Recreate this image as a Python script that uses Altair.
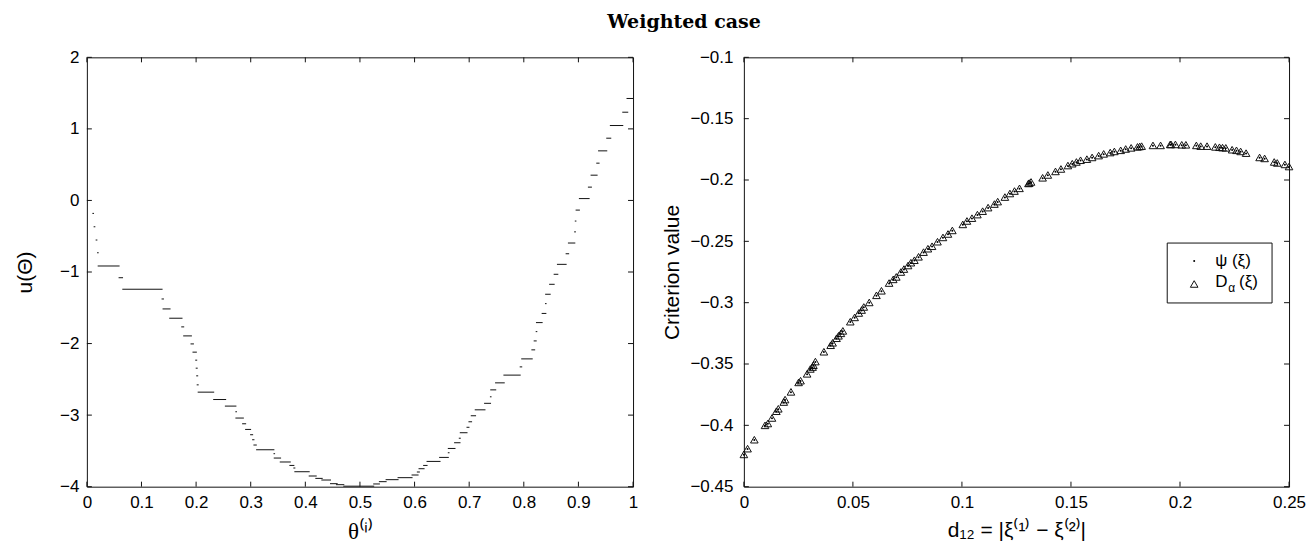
import altair as alt
import pandas as pd

# ---------------- Left panel: staircase u(theta) ----------------
seg_theta0 = [0.0110, 0.0133, 0.0170, 0.0196, 0.0207, 0.0590, 0.0658, 0.1377, 0.1395, 0.1517,
              0.1737, 0.1773, 0.1907, 0.1943, 0.1993, 0.2002, 0.2011, 0.2020, 0.2038, 0.2322,
              0.2536, 0.2728, 0.2729, 0.2852, 0.2907, 0.2998, 0.3035, 0.3059, 0.3108, 0.3426,
              0.3431, 0.3541, 0.3717, 0.3790, 0.3808, 0.4071, 0.4192, 0.4302, 0.4461, 0.4570,
              0.4704, 0.5252, 0.5356, 0.5479, 0.5698, 0.5954, 0.6051, 0.6082, 0.6166, 0.6229,
              0.6459, 0.6618, 0.6618, 0.6733, 0.6819, 0.6837, 0.6960, 0.6996, 0.7038, 0.7111,
              0.7282, 0.7389, 0.7395, 0.7483, 0.7636, 0.7934, 0.7962, 0.8148, 0.8190, 0.8227,
              0.8232, 0.8336, 0.8397, 0.8400, 0.8473, 0.8556, 0.8616, 0.8775, 0.8817, 0.8931,
              0.8943, 0.8958, 0.9018, 0.9183, 0.9232, 0.9336, 0.9369, 0.9519, 0.9585, 0.9812,
              0.9890]
seg_theta1 = [0.0122, 0.0146, 0.0183, 0.0207, 0.0590, 0.0653, 0.1377, 0.1402, 0.1523, 0.1742,
              0.1773, 0.1914, 0.1951, 0.2005, 0.2011, 0.2020, 0.2029, 0.2038, 0.2322, 0.2541,
              0.2729, 0.2739, 0.2865, 0.2907, 0.2998, 0.3035, 0.3059, 0.3102, 0.3424, 0.3437,
              0.3547, 0.3724, 0.3790, 0.3808, 0.4071, 0.4199, 0.4309, 0.4461, 0.4583, 0.4704,
              0.5252, 0.5356, 0.5479, 0.5698, 0.5954, 0.6064, 0.6088, 0.6174, 0.6229, 0.6466,
              0.6618, 0.6631, 0.6740, 0.6832, 0.6837, 0.6960, 0.6996, 0.7044, 0.7117, 0.7289,
              0.7391, 0.7400, 0.7486, 0.7642, 0.7934, 0.7962, 0.8154, 0.8199, 0.8227, 0.8238,
              0.8336, 0.8404, 0.8408, 0.8483, 0.8556, 0.8623, 0.8775, 0.8821, 0.8934, 0.8945,
              0.8954, 0.9018, 0.9196, 0.9238, 0.9342, 0.9378, 0.9519, 0.9592, 0.9812, 0.9903,
              0.9994]
seg_u = [-0.181, -0.368, -0.553, -0.731, -0.916, -1.080, -1.241, -1.377, -1.516, -1.646,
         -1.767, -1.893, -2.005, -2.120, -2.232, -2.344, -2.451, -2.577, -2.679, -2.782,
         -2.874, -2.953, -3.041, -3.121, -3.200, -3.274, -3.344, -3.418, -3.484, -3.539,
         -3.600, -3.655, -3.703, -3.739, -3.791, -3.851, -3.884, -3.907, -3.958, -3.972,
         -3.993, -3.962, -3.930, -3.902, -3.874, -3.837, -3.795, -3.749, -3.703, -3.647,
         -3.591, -3.526, -3.466, -3.386, -3.323, -3.246, -3.170, -3.093, -3.009, -2.926,
         -2.835, -2.744, -2.647, -2.549, -2.441, -2.326, -2.214, -2.088, -1.963, -1.833,
         -1.707, -1.579, -1.442, -1.311, -1.172, -1.032, -0.893, -0.745, -0.595, -0.439,
         -0.288, -0.135, 0.026, 0.186, 0.353, 0.521, 0.693, 0.870, 1.047, 1.233,
         1.425]

left_xticks = [0, 0.1, 0.2, 0.3, 0.4, 0.5, 0.6, 0.7, 0.8, 0.9, 1]
left_yticks = [-4, -3, -2, -1, 0, 1, 2]
left_xdomain = [0, 1]
left_ydomain = [-4, 2]

# ---------------- Right panel: criterion values ----------------
crit_d = [0, 0.0017, 0.0048, 0.0097, 0.011, 0.0129, 0.0149, 0.0158, 0.0183, 0.0189,
          0.0216, 0.0251, 0.026, 0.029, 0.0305, 0.0315, 0.0319, 0.0328, 0.0367, 0.0398,
          0.0407, 0.0425, 0.0434, 0.0445, 0.0454, 0.0488, 0.0508, 0.0527, 0.054, 0.055,
          0.0575, 0.0608, 0.0631, 0.0666, 0.0685, 0.0699, 0.072, 0.0734, 0.0753, 0.0766,
          0.0782, 0.0801, 0.0824, 0.0844, 0.0863, 0.0888, 0.0913, 0.0936, 0.0956, 0.1004,
          0.1023, 0.1046, 0.1071, 0.1095, 0.112, 0.1149, 0.1164, 0.1197, 0.122, 0.1241,
          0.1264, 0.1305, 0.1309, 0.1317, 0.137, 0.1394, 0.1429, 0.1454, 0.1486, 0.1506,
          0.1525, 0.1544, 0.1573, 0.1597, 0.1627, 0.165, 0.168, 0.1699, 0.1728, 0.1751,
          0.1776, 0.1805, 0.1815, 0.1824, 0.1876, 0.1911, 0.1955, 0.1959, 0.1979, 0.2008,
          0.2027, 0.2075, 0.2095, 0.2124, 0.2162, 0.2181, 0.2195, 0.221, 0.2239, 0.2259,
          0.2278, 0.2303, 0.2365, 0.2388, 0.2432, 0.2446, 0.2481, 0.25]
crit_dalpha = [-0.4237, -0.419, -0.4117, -0.400, -0.3985, -0.394, -0.3885, -0.3865, -0.381, -0.379,
               -0.3727, -0.365, -0.3636, -0.358, -0.354, -0.3525, -0.351, -0.348, -0.340, -0.3347,
               -0.3327, -0.329, -0.327, -0.325, -0.323, -0.3155, -0.312, -0.3084, -0.306, -0.3035,
               -0.2998, -0.294, -0.2903, -0.284, -0.281, -0.279, -0.275, -0.2726, -0.2697, -0.2674,
               -0.2654, -0.2626, -0.2588, -0.256, -0.254, -0.2503, -0.2468, -0.244, -0.2411, -0.2362,
               -0.2334, -0.2311, -0.2282, -0.2254, -0.2225, -0.2196, -0.2176, -0.2139, -0.211, -0.209,
               -0.2068, -0.2028, -0.2025, -0.2016, -0.1982, -0.1959, -0.193, -0.191, -0.1882, -0.1867,
               -0.1853, -0.1839, -0.183, -0.1816, -0.1801, -0.1787, -0.1776, -0.1767, -0.1758, -0.1747,
               -0.1738, -0.173, -0.1727, -0.1724, -0.1718, -0.1718, -0.171, -0.171, -0.171, -0.1713,
               -0.1713, -0.1718, -0.1724, -0.1724, -0.173, -0.1733, -0.1736, -0.1738, -0.1753, -0.1758,
               -0.1767, -0.1781, -0.1816, -0.1824, -0.1853, -0.1861, -0.1873, -0.189]
crit_psi = [-0.4240, -0.4193, -0.4120, -0.4003, -0.3988, -0.3943, -0.3888, -0.3868, -0.3813, -0.3793,
            -0.3730, -0.3653, -0.3639, -0.3583, -0.3543, -0.3528, -0.3513, -0.3483, -0.3403, -0.3350,
            -0.3330, -0.3293, -0.3273, -0.3253, -0.3233, -0.3158, -0.3123, -0.3087, -0.3063, -0.3038,
            -0.3001, -0.2943, -0.2906, -0.2843, -0.2813, -0.2793, -0.2753, -0.2729, -0.2700, -0.2677,
            -0.2657, -0.2629, -0.2591, -0.2563, -0.2543, -0.2506, -0.2471, -0.2443, -0.2414, -0.2365,
            -0.2337, -0.2314, -0.2285, -0.2257, -0.2228, -0.2199, -0.2179, -0.2142, -0.2113, -0.2093,
            -0.2071, -0.2031, -0.2028, -0.2019, -0.1985, -0.1962, -0.1933, -0.1913, -0.1885, -0.1870,
            -0.1856, -0.1842, -0.1833, -0.1819, -0.1804, -0.1790, -0.1779, -0.1770, -0.1761, -0.1750,
            -0.1741, -0.1733, -0.1730, -0.1727, -0.1721, -0.1721, -0.1713, -0.1713, -0.1713, -0.1716,
            -0.1716, -0.1721, -0.1727, -0.1727, -0.1733, -0.1736, -0.1739, -0.1741, -0.1756, -0.1761,
            -0.1770, -0.1784, -0.1819, -0.1827, -0.1856, -0.1864, -0.1876, -0.1893]

right_xticks = [0, 0.05, 0.1, 0.15, 0.2, 0.25]
right_yticks = [-0.45, -0.4, -0.35, -0.3, -0.25, -0.2, -0.15, -0.1]
right_xdomain = [0, 0.25]
right_ydomain = [-0.45, -0.1]

legend_psi = "ψ (ξ)"
legend_d = "D"
legend_alpha = "α"
legend_xi = "(ξ)"

main_title = "Weighted case"
left_xtitle = "θ⁽ⁱ⁾"
left_ytitle = "u(Θ)"
right_xtitle = "d₁₂ =  |ξ⁽¹⁾ − ξ⁽²⁾|"
right_ytitle = "Criterion value"

W, H = 547, 430
W2 = 546
FONT = "Liberation Sans"
INK = "#111111"
TRI_SIZE = 58


def panel(main_layers, xticks, yticks, xdom, ydom, width, height, ax_x, ax_y, extra=(), tick_px=5):
    """Layer data marks with inward ticks on all four sides (drawn through the scales)."""
    xs = alt.Scale(domain=xdom, nice=False, zero=False)
    ys = alt.Scale(domain=ydom, nice=False, zero=False)
    dy = (ydom[1] - ydom[0]) * tick_px / height
    dx = (xdom[1] - xdom[0]) * tick_px / width
    xt = pd.DataFrame({"t": xticks})
    yt = pd.DataFrame({"t": yticks})
    base = dict(color=INK, strokeWidth=1)
    layers = [m(xs, ys) for m in main_layers]
    layers += [
        alt.Chart(xt).mark_rule(**base).encode(
            x=alt.X("t:Q", scale=xs, axis=ax_x),
            y=alt.YDatum(ydom[0], scale=ys, axis=ax_y),
            y2=alt.Y2Datum(ydom[0] + dy)),
        alt.Chart(xt).mark_rule(**base).encode(
            x=alt.X("t:Q", scale=xs, axis=ax_x),
            y=alt.YDatum(ydom[1], scale=ys, axis=ax_y),
            y2=alt.Y2Datum(ydom[1] - dy)),
        alt.Chart(yt).mark_rule(**base).encode(
            y=alt.Y("t:Q", scale=ys, axis=ax_y),
            x=alt.XDatum(xdom[0], scale=xs, axis=ax_x),
            x2=alt.X2Datum(xdom[0] + dx)),
        alt.Chart(yt).mark_rule(**base).encode(
            y=alt.Y("t:Q", scale=ys, axis=ax_y),
            x=alt.XDatum(xdom[1], scale=xs, axis=ax_x),
            x2=alt.X2Datum(xdom[1] - dx)),
    ]
    return alt.layer(*layers, *extra).properties(width=width, height=height)


# ---- left chart ----
seg_df = pd.DataFrame({"theta0": seg_theta0, "theta1": seg_theta1, "u": seg_u})
lax_x = alt.Axis(values=left_xticks, format="~g", title=left_xtitle,
                 titleFont="Liberation Serif", titleFontSize=23,
                 labelPadding=8, titlePadding=10)
lax_y = alt.Axis(values=left_yticks, format="~g", title=left_ytitle,
                 labelPadding=8, titlePadding=24)


def left_main(xs, ys):
    return alt.Chart(seg_df).mark_rule(color=INK, strokeWidth=1, strokeCap="square").encode(
        x=alt.X("theta0:Q", scale=xs, axis=lax_x),
        x2="theta1:Q",
        y=alt.Y("u:Q", scale=ys, axis=lax_y),
    )


left = panel([left_main], left_xticks, left_yticks, left_xdomain, left_ydomain, W, H,
             lax_x, lax_y)

# ---- right chart ----
crit_df = pd.DataFrame({"d": crit_d, "dalpha": crit_dalpha, "psi": crit_psi})
rax_x = alt.Axis(values=right_xticks, format="~g", title=right_xtitle,
                 titleFontSize=21, labelPadding=8, titlePadding=9)
rax_y = alt.Axis(values=right_yticks, format="~g", title=right_ytitle,
                 labelPadding=11, titlePadding=7)


def tri_layer(xs, ys):
    return alt.Chart(crit_df).mark_point(shape="triangle-up", filled=False, size=TRI_SIZE,
                                         color=INK, strokeWidth=1, opacity=1).encode(
        x=alt.X("d:Q", scale=xs, axis=rax_x),
        y=alt.Y("dalpha:Q", scale=ys, axis=rax_y),
    )


def psi_layer(xs, ys):
    return alt.Chart(crit_df).mark_circle(size=4, color="black", opacity=1).encode(
        x=alt.X("d:Q", scale=xs, axis=rax_x),
        y=alt.Y("psi:Q", scale=ys, axis=rax_y),
    )


one = alt.Data(values=[{"k": 0}])
leg_box = alt.Chart(one).mark_rect(fill="white", stroke=INK, strokeWidth=1).encode(
    x=alt.value(424), x2=alt.value(529), y=alt.value(186), y2=alt.value(246))
leg_dot = alt.Chart(one).mark_circle(size=4, color="black", opacity=1).encode(
    x=alt.value(451), y=alt.value(204))
leg_tri = alt.Chart(one).mark_point(shape="triangle-up", filled=False, size=TRI_SIZE,
                                    color=INK, strokeWidth=1, opacity=1).encode(
    x=alt.value(451), y=alt.value(227))
txt = dict(font=FONT, fontSize=17, align="left", baseline="alphabetic", color="black")
leg_t1 = alt.Chart(one).mark_text(**txt).encode(
    x=alt.value(472), y=alt.value(209), text=alt.value(legend_psi))
leg_t2 = alt.Chart(one).mark_text(**txt).encode(
    x=alt.value(472), y=alt.value(230), text=alt.value(legend_d))
leg_t3 = alt.Chart(one).mark_text(font=FONT, fontSize=12, align="left",
                                  baseline="alphabetic", color="black").encode(
    x=alt.value(485), y=alt.value(235), text=alt.value(legend_alpha))
leg_t4 = alt.Chart(one).mark_text(**txt).encode(
    x=alt.value(496), y=alt.value(230), text=alt.value(legend_xi))

right = panel([tri_layer, psi_layer], right_xticks, right_yticks, right_xdomain, right_ydomain,
              W2, H, rax_x, rax_y,
              extra=(leg_box, leg_dot, leg_tri, leg_t1, leg_t2, leg_t3, leg_t4))

chart = alt.hconcat(left, right, spacing=22).properties(
    title=alt.TitleParams(main_title, font="DejaVu Serif", fontSize=19, fontWeight="bold",
                          anchor="middle", offset=16, dx=24, color="black"),
    padding={"left": 14, "top": 12, "right": 5, "bottom": 5},
    background="white",
).configure_view(stroke=INK, strokeWidth=1).configure_axis(
    grid=False, ticks=False, domain=False,
    labelFont=FONT, labelFontSize=17, labelColor="black",
    titleFont=FONT, titleFontSize=21, titleFontWeight="normal", titleColor="black",
    labelFlush=False, labelOverlap=False,
)

chart.save("out.html", embed_options={"renderer": "svg", "actions": False})
